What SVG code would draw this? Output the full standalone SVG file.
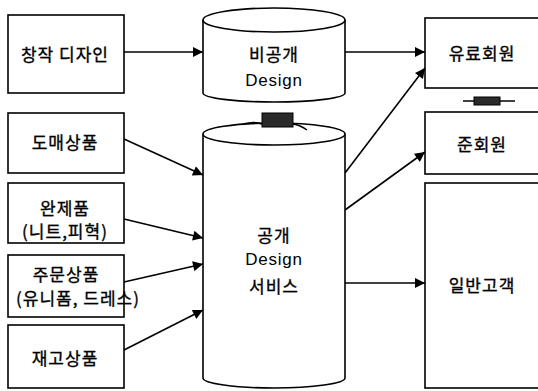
<svg xmlns="http://www.w3.org/2000/svg" width="538" height="391" viewBox="0 0 538 391">
  <defs>
    <marker id="arrow" viewBox="0 0 10 10" refX="10" refY="5" markerWidth="11" markerHeight="10" markerUnits="userSpaceOnUse" orient="auto">
      <path d="M0,0 L10,5 L0,10 Z" fill="#000"/>
    </marker>
  </defs>
  <style>
    .box { fill: #fff; stroke: #000; stroke-width: 1.6; }
    .cyl { fill: #fff; stroke: #000; stroke-width: 1.6; }
    .lbl { font-family: "Noto Sans CJK KR", "Noto Sans", sans-serif; font-size: 17px; letter-spacing: 1px; fill: #000; stroke: #000; stroke-width: 0.35; text-anchor: middle; dominant-baseline: central; }
    .lat { font-family: "Liberation Sans", "Noto Sans", sans-serif; font-size: 17px; letter-spacing: 0.8px; fill: #000; text-anchor: middle; dominant-baseline: central; }
    .edge { fill: none; stroke: #000; stroke-width: 1.6; marker-end: url(#arrow); }
    .tie { fill: none; stroke: #000; stroke-width: 1.4; }
    .chip { fill: #2a2a2a; stroke: #000; stroke-width: 1; }
  </style>
  <rect width="538" height="391" fill="#fff"/>

  <g id="connectors">
    <line class="edge" x1="124" y1="52" x2="203" y2="52"/>
    <line class="edge" x1="345" y1="52" x2="425" y2="52"/>
    <line class="edge" x1="124" y1="139" x2="203" y2="175"/>
    <line class="edge" x1="124" y1="219" x2="203" y2="238"/>
    <line class="edge" x1="124" y1="282" x2="203" y2="264"/>
    <line class="edge" x1="124" y1="350" x2="203" y2="310"/>
    <line class="edge" x1="345" y1="173" x2="425" y2="68"/>
    <line class="edge" x1="345" y1="210" x2="425" y2="152"/>
    <line class="edge" x1="345" y1="283" x2="425" y2="283"/>
  </g>

  <g id="creative-design">
    <rect class="box" x="8" y="15" width="116" height="78"/>
    <text class="lbl" x="65" y="53">창작 디자인</text>
  </g>
  <g id="wholesale">
    <rect class="box" x="8" y="113" width="116" height="60"/>
    <text class="lbl" x="65" y="141">도매상품</text>
  </g>
  <g id="finished-goods">
    <rect class="box" x="8" y="183" width="116" height="60"/>
    <text class="lbl" x="65" y="207">완제품</text>
    <text class="lbl" x="65" y="230">(니트,피혁)</text>
  </g>
  <g id="custom-order">
    <rect class="box" x="8" y="255" width="116" height="62"/>
    <text class="lbl" x="66" y="273">주문상품</text>
    <text class="lbl" x="78" y="297" letter-spacing="2.5">(유니폼, 드레스)</text>
  </g>
  <g id="stock">
    <rect class="box" x="8" y="325" width="116" height="63"/>
    <text class="lbl" x="65" y="357">재고상품</text>
  </g>

  <g id="private-design">
    <path class="cyl" d="M203,20 V93 A71,9 0 0,0 345,93 V20"/>
    <ellipse class="cyl" cx="274" cy="20" rx="71" ry="12"/>
    <text class="lbl" x="274" y="53">비공개</text>
    <text class="lat" x="274" y="80">Design</text>
  </g>
  <g id="public-design">
    <path class="cyl" d="M203,134 V378 A71,10 0 0,0 345,378 V134"/>
    <ellipse class="cyl" cx="274" cy="134" rx="71" ry="11"/>
    <text class="lbl" x="274" y="234">공개</text>
    <text class="lat" x="274" y="259">Design</text>
    <text class="lbl" x="274" y="285">서비스</text>
  </g>

  <g id="paid-member">
    <rect class="box" x="425" y="18" width="120" height="70"/>
    <text class="lbl" x="482" y="52">유료회원</text>
  </g>
  <g id="associate-member">
    <rect class="box" x="425" y="112" width="120" height="62"/>
    <text class="lbl" x="482" y="143">준회원</text>
  </g>
  <g id="general-customer">
    <rect class="box" x="425" y="183" width="120" height="205"/>
    <text class="lbl" x="482" y="284">일반고객</text>
  </g>

  <!-- small joiners between stacked shapes -->
  <g id="joiners">
    <path class="tie" d="M243,124 Q255,121 262,124 M293,124 Q300,125 307,130"/>
    <rect class="chip" x="262" y="113" width="31" height="14"/>
    <path class="tie" d="M463,101 H515"/>
    <rect class="chip" x="474" y="97" width="26" height="8"/>
  </g>
</svg>
